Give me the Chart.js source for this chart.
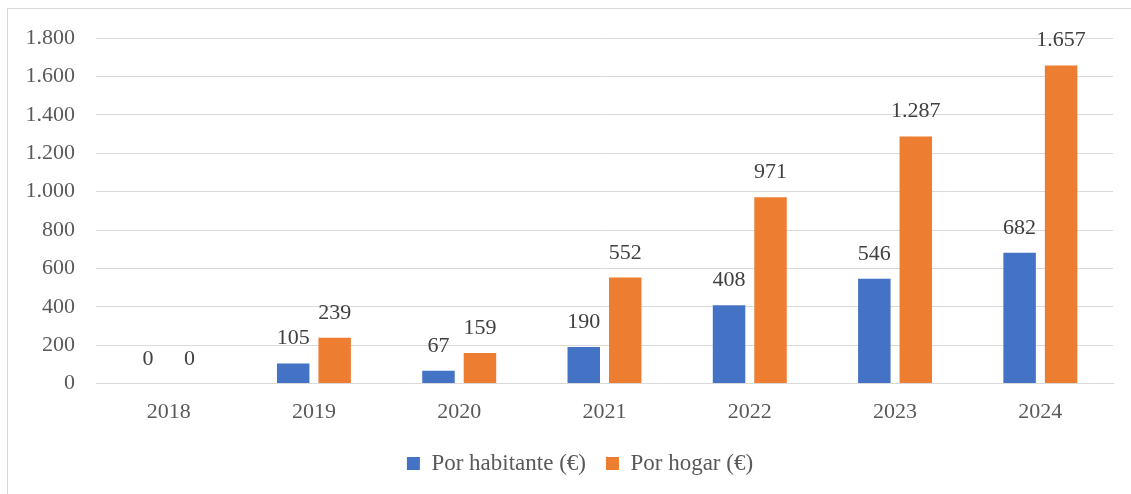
<!DOCTYPE html>
<html>
<head>
<meta charset="utf-8">
<script src="https://cdn.jsdelivr.net/npm/chart.js@4.4.1/dist/chart.umd.min.js"></script>
<style>
  html, body { margin: 0; padding: 0; background: #fff; }
  body { width: 1131px; height: 494px; overflow: hidden; position: relative; }
  #frame { position: absolute; left: 7px; top: 8px; width: 1200px; height: 600px; border: 1px solid #D9D9D9; box-sizing: border-box; }
  #wrap { position: absolute; left: 0; top: 0; width: 1131px; height: 494px; }
</style>
</head>
<body>
<div id="frame"></div>
<div id="wrap"><canvas id="c" width="1131" height="494"></canvas></div>
<script>
const categories = ['2018', '2019', '2020', '2021', '2022', '2023', '2024'];
const porHabitante = [0, 105, 67, 190, 408, 546, 682];
const porHogar = [0, 239, 159, 552, 971, 1287, 1657];
const seriesNames = ['Por habitante (€)', 'Por hogar (€)'];
const yTicks = [0, 200, 400, 600, 800, 1000, 1200, 1400, 1600, 1800];

const FONT = "'Liberation Serif', 'Times New Roman', serif";
function fmt(v) {
  return String(Math.round(v)).replace(/\B(?=(\d{3})+(?!\d))/g, '.');
}

const labelPlugin = {
  id: 'barLabels',
  afterLayout(chart) {
    // widen the y-axis label clip region so tick labels are not cut
    chart.scales.y.left = 0;
  },
  afterDatasetsDraw(chart) {
    const ctx = chart.ctx;
    ctx.save();
    ctx.font = '22px ' + FONT;
    ctx.fillStyle = '#404040';
    ctx.textAlign = 'center';
    ctx.textBaseline = 'alphabetic';
    chart.data.datasets.forEach((ds, i) => {
      const meta = chart.getDatasetMeta(i);
      meta.data.forEach((el, j) => {
        ctx.fillText(fmt(ds.data[j]), el.x, el.y - 19);
      });
    });
    ctx.restore();
  }
};

new Chart(document.getElementById('c'), {
  type: 'bar',
  data: {
    labels: categories,
    datasets: [
      { label: seriesNames[0], data: porHabitante, backgroundColor: '#4472C4', categoryPercentage: 0.571, barPercentage: 0.783 },
      { label: seriesNames[1], data: porHogar, backgroundColor: '#ED7D31', categoryPercentage: 0.571, barPercentage: 0.783 }
    ]
  },
  options: {
    responsive: false,
    animation: false,
    devicePixelRatio: 1,
    layout: { padding: { left: 47, right: 18, top: 38, bottom: 9 } },
    plugins: {
      legend: {
        position: 'bottom',
        labels: {
          font: { family: FONT, size: 23 },
          color: '#595959',
          boxWidth: 13,
          boxHeight: 13,
          padding: 20
        }
      },
      tooltip: { enabled: false }
    },
    scales: {
      x: {
        grid: { display: false },
        border: { display: true, color: '#D9D9D9', width: 1 },
        ticks: { font: { family: FONT, size: 22 }, color: '#595959', padding: 7 }
      },
      y: {
        min: 0, max: 1800,
        afterBuildTicks(scale) { scale.ticks = yTicks.map(v => ({ value: v })); },
        afterFit(scale) { scale.width = 49; },
        grid: { color: '#D9D9D9', lineWidth: 1, drawTicks: false },
        border: { display: false },
        ticks: { font: { family: FONT, size: 22 }, color: '#595959', padding: 21, callback: v => fmt(v) }
      }
    }
  },
  plugins: [labelPlugin]
});
</script>
</body>
</html>
